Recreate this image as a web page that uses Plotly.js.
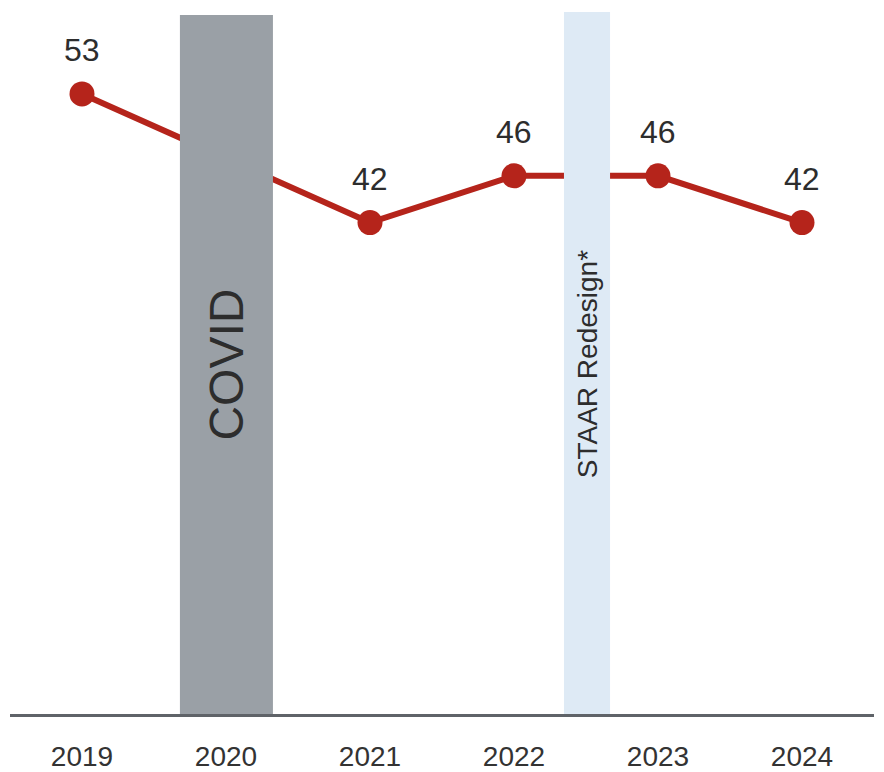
<!DOCTYPE html>
<html>
<head>
<meta charset="utf-8">
<script src="https://cdn.plot.ly/plotly-3.0.1.min.js"></script>
<style>html,body{margin:0;padding:0;background:#fff;}#chart{width:884px;height:772px;}</style>
</head>
<body>
<div id="chart"></div>
<script>
const years = [2019, 2021, 2022, 2023, 2024];
const values = [53, 42, 46, 46, 42];
const tickYears = [2019, 2020, 2021, 2022, 2023, 2024];
const tickLabels = ["2019", "2020", "2021", "2022", "2023", "2024"];
const bandLabels = ["COVID", "STAAR Redesign*"];
const bandX0 = [2019.68, 2022.347];
const bandX1 = [2020.326, 2022.667];
const bandTop = [59.75, 60];
const bandColors = ["#9aa0a6", "#deeaf5"];
const bandFontSizes = [48, 28];

const font = "Liberation Sans, Arial, Helvetica, sans-serif";
const textColor = "#2d2d2d";

const trace = {
  x: years, y: values, type: "scatter", mode: "lines+markers",
  line: {color: "#b5241b", width: 6},
  marker: {color: "#b5241b", size: 25},
  hoverinfo: "skip", showlegend: false, cliponaxis: false
};

const shapes = bandLabels.map((_, i) => ({
  type: "rect", xref: "x", yref: "y", layer: "above",
  x0: bandX0[i], x1: bandX1[i], y0: 0, y1: bandTop[i],
  fillcolor: bandColors[i], line: {width: 0}
}));

const annotations = values.map((v, i) => ({
  x: years[i], y: v, xref: "x", yref: "y", text: String(v),
  showarrow: false, yshift: 44, font: {family: font, size: 32, color: textColor}
})).concat(bandLabels.map((t, i) => ({
  x: (bandX0[i] + bandX1[i]) / 2, y: 29.9, xref: "x", yref: "y", text: t,
  textangle: -90, showarrow: false, font: {family: font, size: bandFontSizes[i], color: textColor}
})));

const layout = {
  width: 884, height: 772,
  margin: {l: 10, r: 10, t: 12, b: 58},
  paper_bgcolor: "#fff", plot_bgcolor: "#fff",
  font: {family: font, color: textColor},
  xaxis: {
    range: [2018.5, 2024.5], tickvals: tickYears, ticktext: tickLabels,
    showgrid: false, zeroline: false, showline: true, linecolor: "#5f6368", linewidth: 3,
    ticks: "", ticklabelstandoff: 15, tickfont: {family: font, size: 28, color: "#333"}
  },
  yaxis: {range: [0, 60], visible: false, showgrid: false, zeroline: false},
  shapes: shapes, annotations: annotations
};

Plotly.newPlot("chart", [trace], layout, {displayModeBar: false, staticPlot: true});
</script>
</body>
</html>
